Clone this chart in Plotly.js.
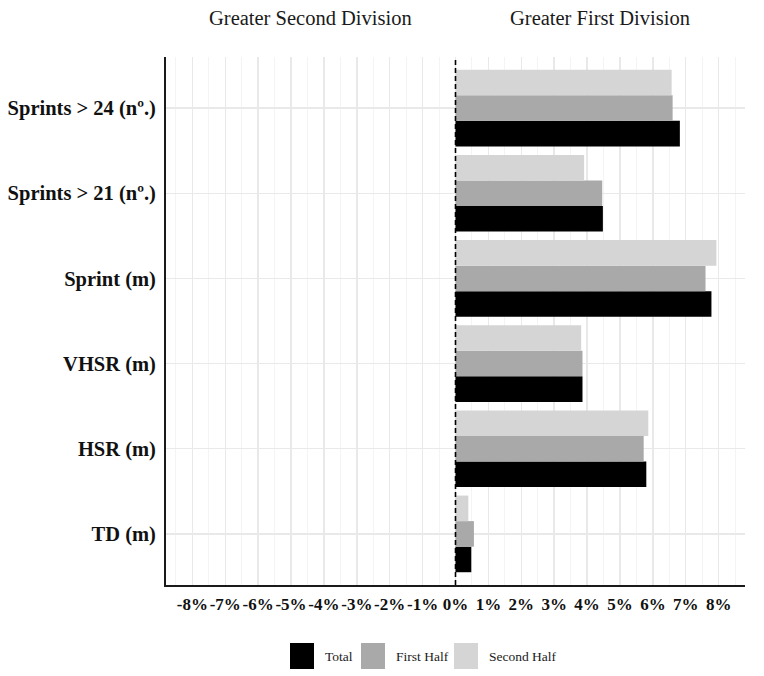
<!DOCTYPE html>
<html>
<head>
<meta charset="utf-8">
<script src="https://cdn.plot.ly/plotly-3.0.1.min.js"></script>
<style>
  html, body { margin: 0; padding: 0; background: #fff; }
  #chart { width: 764px; height: 676px; }
</style>
</head>
<body>
<div id="chart"></div>
<script>
// categories, bottom to top (plotly puts the first category at the bottom)
const variables = ["TD (m)", "HSR (m)", "VHSR (m)", "Sprint (m)", "Sprints > 21 (nº.)", "Sprints > 24 (nº.)"];

// % difference, positive = greater in first division
const totalValues = [0.48, 5.80, 3.86, 7.78, 4.48, 6.82];
const firstHalfValues = [0.56, 5.72, 3.86, 7.60, 4.46, 6.60];
const secondHalfValues = [0.39, 5.86, 3.82, 7.93, 3.91, 6.57];

const seriesNames = ["Total", "First Half", "Second Half"];
const seriesColors = ["#000000", "#a9a9a9", "#d5d5d5"];

const xTickVals = [-8, -7, -6, -5, -4, -3, -2, -1, 0, 1, 2, 3, 4, 5, 6, 7, 8];
const xTickText = xTickVals.map((v) => v + "%");

const serif = "Liberation Serif, Times New Roman, serif";

// plot area in pixels, used to place the legend below it
const W = 764, H = 676;
const M = { l: 166, r: 19, t: 57, b: 91 };
const plotW = W - M.l - M.r;
const plotH = H - M.t - M.b;
const px = (p) => (p - M.l) / plotW;
const py = (q) => (H - M.b - q) / plotH;

const traces = [totalValues, firstHalfValues, secondHalfValues].map((vals, i) => ({
  type: "bar",
  orientation: "h",
  name: seriesNames[i],
  y: variables,
  x: vals,
  marker: { color: seriesColors[i], line: { width: 0 } },
  hoverinfo: "x+y+name",
}));

// ggplot style legend: big keys, centred row under the plot
const keyLeft = [290, 361, 454];
const legendShapes = seriesNames.map((n, i) => ({
  type: "rect",
  xref: "paper",
  yref: "paper",
  x0: px(keyLeft[i]),
  x1: px(keyLeft[i] + 24),
  y0: py(643),
  y1: py(669),
  fillcolor: seriesColors[i],
  line: { width: 0 },
}));
const legendLabels = seriesNames.map((n, i) => ({
  text: n,
  xref: "paper",
  yref: "paper",
  x: px(keyLeft[i] + 33),
  y: py(656),
  xanchor: "left",
  yanchor: "middle",
  showarrow: false,
  font: { size: 13.5, family: serif, color: "#1a1a1a" },
}));

const layout = {
  width: W,
  height: H,
  margin: M,
  paper_bgcolor: "#ffffff",
  plot_bgcolor: "#ffffff",
  barmode: "group",
  bargap: 0.1,
  bargroupgap: 0,
  font: { family: serif, color: "#1a1a1a" },
  showlegend: false,
  xaxis: {
    range: [-8.8, 8.8],
    tickmode: "array",
    tickvals: xTickVals,
    ticktext: xTickText,
    tickangle: 0,
    tickfont: { size: 17, weight: "bold", color: "#111" },
    ticks: "",
    ticklabelstandoff: 3,
    showgrid: true,
    gridcolor: "#e9e9e9",
    gridwidth: 1.4,
    minor: { dtick: 0.5, tick0: 0, showgrid: true, gridcolor: "#f4f4f4", gridwidth: 1 },
    zeroline: false,
    showline: true,
    linecolor: "#1a1a1a",
    linewidth: 2,
    automargin: false,
    fixedrange: true,
  },
  yaxis: {
    range: [-0.6, 5.6],
    tickfont: { size: 20.5, weight: "bold", color: "#111" },
    ticks: "",
    ticklabelstandoff: 4,
    showgrid: true,
    gridcolor: "#e9e9e9",
    gridwidth: 1.4,
    zeroline: false,
    showline: true,
    linecolor: "#1a1a1a",
    linewidth: 2,
    automargin: false,
    fixedrange: true,
  },
  shapes: [
    {
      type: "line",
      xref: "x",
      yref: "paper",
      x0: 0,
      x1: 0,
      y0: 0,
      y1: 1,
      layer: "above",
      line: { color: "#000", width: 1.6, dash: "5px,3px" },
    },
  ].concat(legendShapes),
  annotations: [
    {
      text: "Greater Second Division",
      xref: "x",
      yref: "paper",
      x: -4.4,
      y: py(18),
      yanchor: "middle",
      showarrow: false,
      font: { size: 20.5, family: serif, color: "#1a1a1a" },
    },
    {
      text: "Greater First Division",
      xref: "x",
      yref: "paper",
      x: 4.4,
      y: py(18),
      yanchor: "middle",
      showarrow: false,
      font: { size: 20.5, family: serif, color: "#1a1a1a" },
    },
  ].concat(legendLabels),
};

Plotly.newPlot("chart", traces, layout, { displayModeBar: false, staticPlot: true });
</script>
</body>
</html>
